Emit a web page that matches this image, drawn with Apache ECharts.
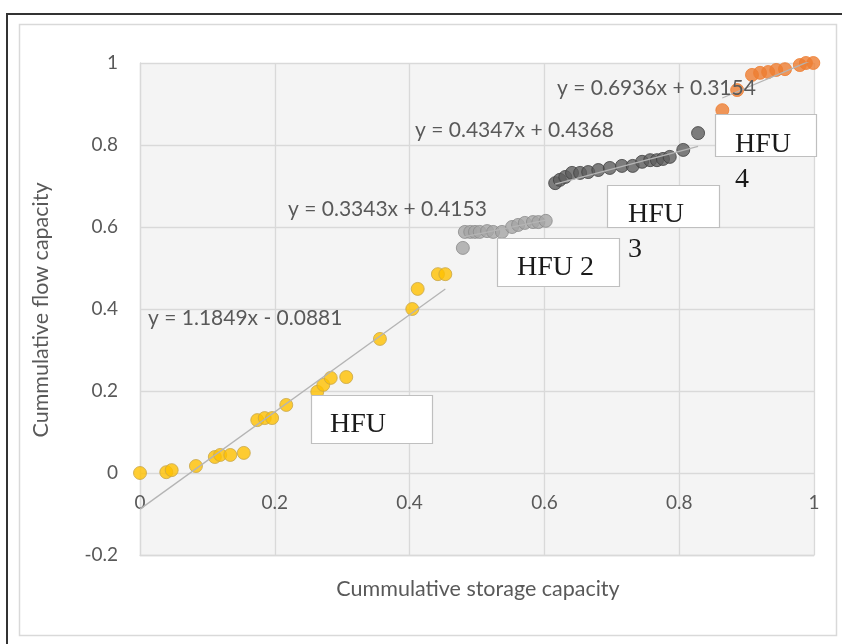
<!DOCTYPE html>
<html><head><meta charset="utf-8">
<script src="https://cdn.jsdelivr.net/npm/echarts@6/dist/echarts.min.js"></script>
<style>html,body{margin:0;padding:0;background:#fff}#c{width:842px;height:644px}</style>
</head><body><div id="c"></div>
<script>
// ---- data ----
const hfu1X = [0, 0.039, 0.047, 0.083, 0.111, 0.119, 0.134, 0.154, 0.174, 0.185, 0.196, 0.217, 0.263, 0.272, 0.283, 0.306, 0.356, 0.404, 0.412, 0.442, 0.453];
const hfu1Y = [0, 0.002, 0.007, 0.017, 0.039, 0.044, 0.044, 0.049, 0.129, 0.134, 0.134, 0.166, 0.198, 0.215, 0.232, 0.234, 0.327, 0.400, 0.449, 0.485, 0.485];
const hfu2X = [0.479, 0.482, 0.490, 0.497, 0.504, 0.515, 0.524, 0.537, 0.552, 0.561, 0.571, 0.583, 0.591, 0.602];
const hfu2Y = [0.549, 0.588, 0.588, 0.588, 0.588, 0.590, 0.588, 0.588, 0.600, 0.605, 0.610, 0.612, 0.612, 0.615];
const hfu3X = [0.616, 0.623, 0.631, 0.641, 0.653, 0.665, 0.680, 0.697, 0.715, 0.731, 0.745, 0.757, 0.767, 0.776, 0.786, 0.806, 0.828];
const hfu3Y = [0.707, 0.715, 0.722, 0.732, 0.732, 0.734, 0.739, 0.744, 0.749, 0.749, 0.759, 0.763, 0.763, 0.766, 0.771, 0.788, 0.829];
const hfu4X = [0.864, 0.886, 0.908, 0.920, 0.932, 0.944, 0.957, 0.979, 0.988, 0.999];
const hfu4Y = [0.885, 0.934, 0.971, 0.976, 0.978, 0.983, 0.985, 0.995, 1.000, 1.000];
const trendSlope = [1.1849, 0.3343, 0.4347, 0.6936];
const trendIntercept = [-0.0881, 0.4153, 0.4368, 0.3154];
const trendLabels = ['y = 1.1849x - 0.0881', 'y = 0.3343x + 0.4153', 'y = 0.4347x + 0.4368', 'y = 0.6936x + 0.3154'];
const boxLabels = ['HFU', 'HFU 2', 'HFU\n3', 'HFU\n4'];
const xTitle = 'Cummulative storage capacity';
const yTitle = 'Cummulative flow capacity';

// ---- chart ----
const chart = echarts.init(document.getElementById('c'));
const sets = [[hfu1X, hfu1Y], [hfu2X, hfu2Y], [hfu3X, hfu3Y], [hfu4X, hfu4Y]];
const colors = ['#ffc000', '#a5a5a5', '#5e5e5e', '#ed7d31'];
const borders = ['#c8a64a', '#8a8a8a', '#3f3f3f', '#ed7d31'];
const F = 'Lato, "Open Sans", sans-serif';
const TXT = '#595959';
const series = [];
sets.forEach((s, i) => {
  series.push({
    type: 'scatter', z: 3, symbolSize: 13,
    itemStyle: { color: colors[i], borderColor: borders[i], borderWidth: 1 },
    data: s[0].map((x, k) => [x, s[1][k]])
  });
});
sets.forEach((s, i) => {
  const x0 = Math.min(...s[0]), x1 = Math.max(...s[0]);
  series.push({
    type: 'line', z: 4, symbol: 'none', silent: true,
    lineStyle: { color: '#b4b4b4', width: 1.3 },
    data: [[x0, trendSlope[i] * x0 + trendIntercept[i]], [x1, trendSlope[i] * x1 + trendIntercept[i]]]
  });
});
const fmt = v => String(Math.round(v * 10) / 10);
const eqPos = [[148, 318], [288, 209], [415, 130], [557, 88]];
const boxRects = [[311, 395, 121, 48], [497, 238, 122, 48], [607, 185, 112, 42], [715, 114, 101, 42]];
const boxText = [[330, 439], [517, 282], [628, 229], [735, 159]];
const graphics = [
  { type: 'rect', z: 0, silent: true, shape: { x: 7, y: 14, width: 900, height: 700 }, style: { fill: 'none', stroke: '#333', lineWidth: 2 } },
  { type: 'rect', z: 0, silent: true, shape: { x: 19.5, y: 24.5, width: 817, height: 611 }, style: { fill: 'none', stroke: '#d9d9d9', lineWidth: 1.5 } },
  { type: 'text', z: 10, x: 478, y: 589, style: { text: xTitle, fill: TXT, font: '21.5px ' + F, textAlign: 'center', textVerticalAlign: 'middle' } },
  { type: 'text', z: 10, x: 41, y: 310, rotation: Math.PI / 2, style: { text: yTitle, fill: TXT, font: '21.5px ' + F, textAlign: 'center', textVerticalAlign: 'middle' } }
];
trendLabels.forEach((t, i) => graphics.push({ type: 'text', z: 10, x: eqPos[i][0], y: eqPos[i][1], style: { text: t, fill: TXT, font: '21px ' + F, textAlign: 'left', textVerticalAlign: 'middle' } }));
boxLabels.forEach((t, i) => {
  const r = boxRects[i];
  graphics.push({ type: 'rect', z: 20, shape: { x: r[0] + 0.5, y: r[1] + 0.5, width: r[2], height: r[3] }, style: { fill: '#fff', stroke: '#bfbfbf', lineWidth: 1.2 } });
  const lines = t.split('\n');
  lines.forEach((ln, j) => graphics.push({ type: 'text', z: 21, x: boxText[i][0], y: boxText[i][1] + j * 35, style: { text: ln, fill: '#1a1a1a', font: '28px "Liberation Serif", serif', textAlign: 'left', textVerticalAlign: 'bottom' } }));
});
chart.setOption({
  backgroundColor: '#fff',
  animation: false,
  grid: { left: 140, right: 28, top: 63, bottom: 89, show: true, backgroundColor: '#f4f4f4', borderWidth: 0 },
  xAxis: {
    type: 'value', min: 0, max: 1, interval: 0.2,
    axisLine: { show: true, onZero: false, lineStyle: { color: '#d9d9d9', width: 1.3 } },
    axisTick: { show: false },
    axisLabel: { color: TXT, fontFamily: F, fontSize: 19, margin: -62, formatter: fmt },
    splitLine: { show: true, lineStyle: { color: '#d9d9d9', width: 1.3 } }
  },
  yAxis: {
    type: 'value', min: -0.2, max: 1, interval: 0.2,
    axisLine: { show: true, lineStyle: { color: '#d9d9d9', width: 1.3 } },
    axisTick: { show: false },
    axisLabel: { color: TXT, fontFamily: F, fontSize: 19, margin: 22, formatter: fmt },
    splitLine: { show: true, lineStyle: { color: '#d9d9d9', width: 1.3 } }
  },
  series: series,
  graphic: graphics
});
</script></body></html>
